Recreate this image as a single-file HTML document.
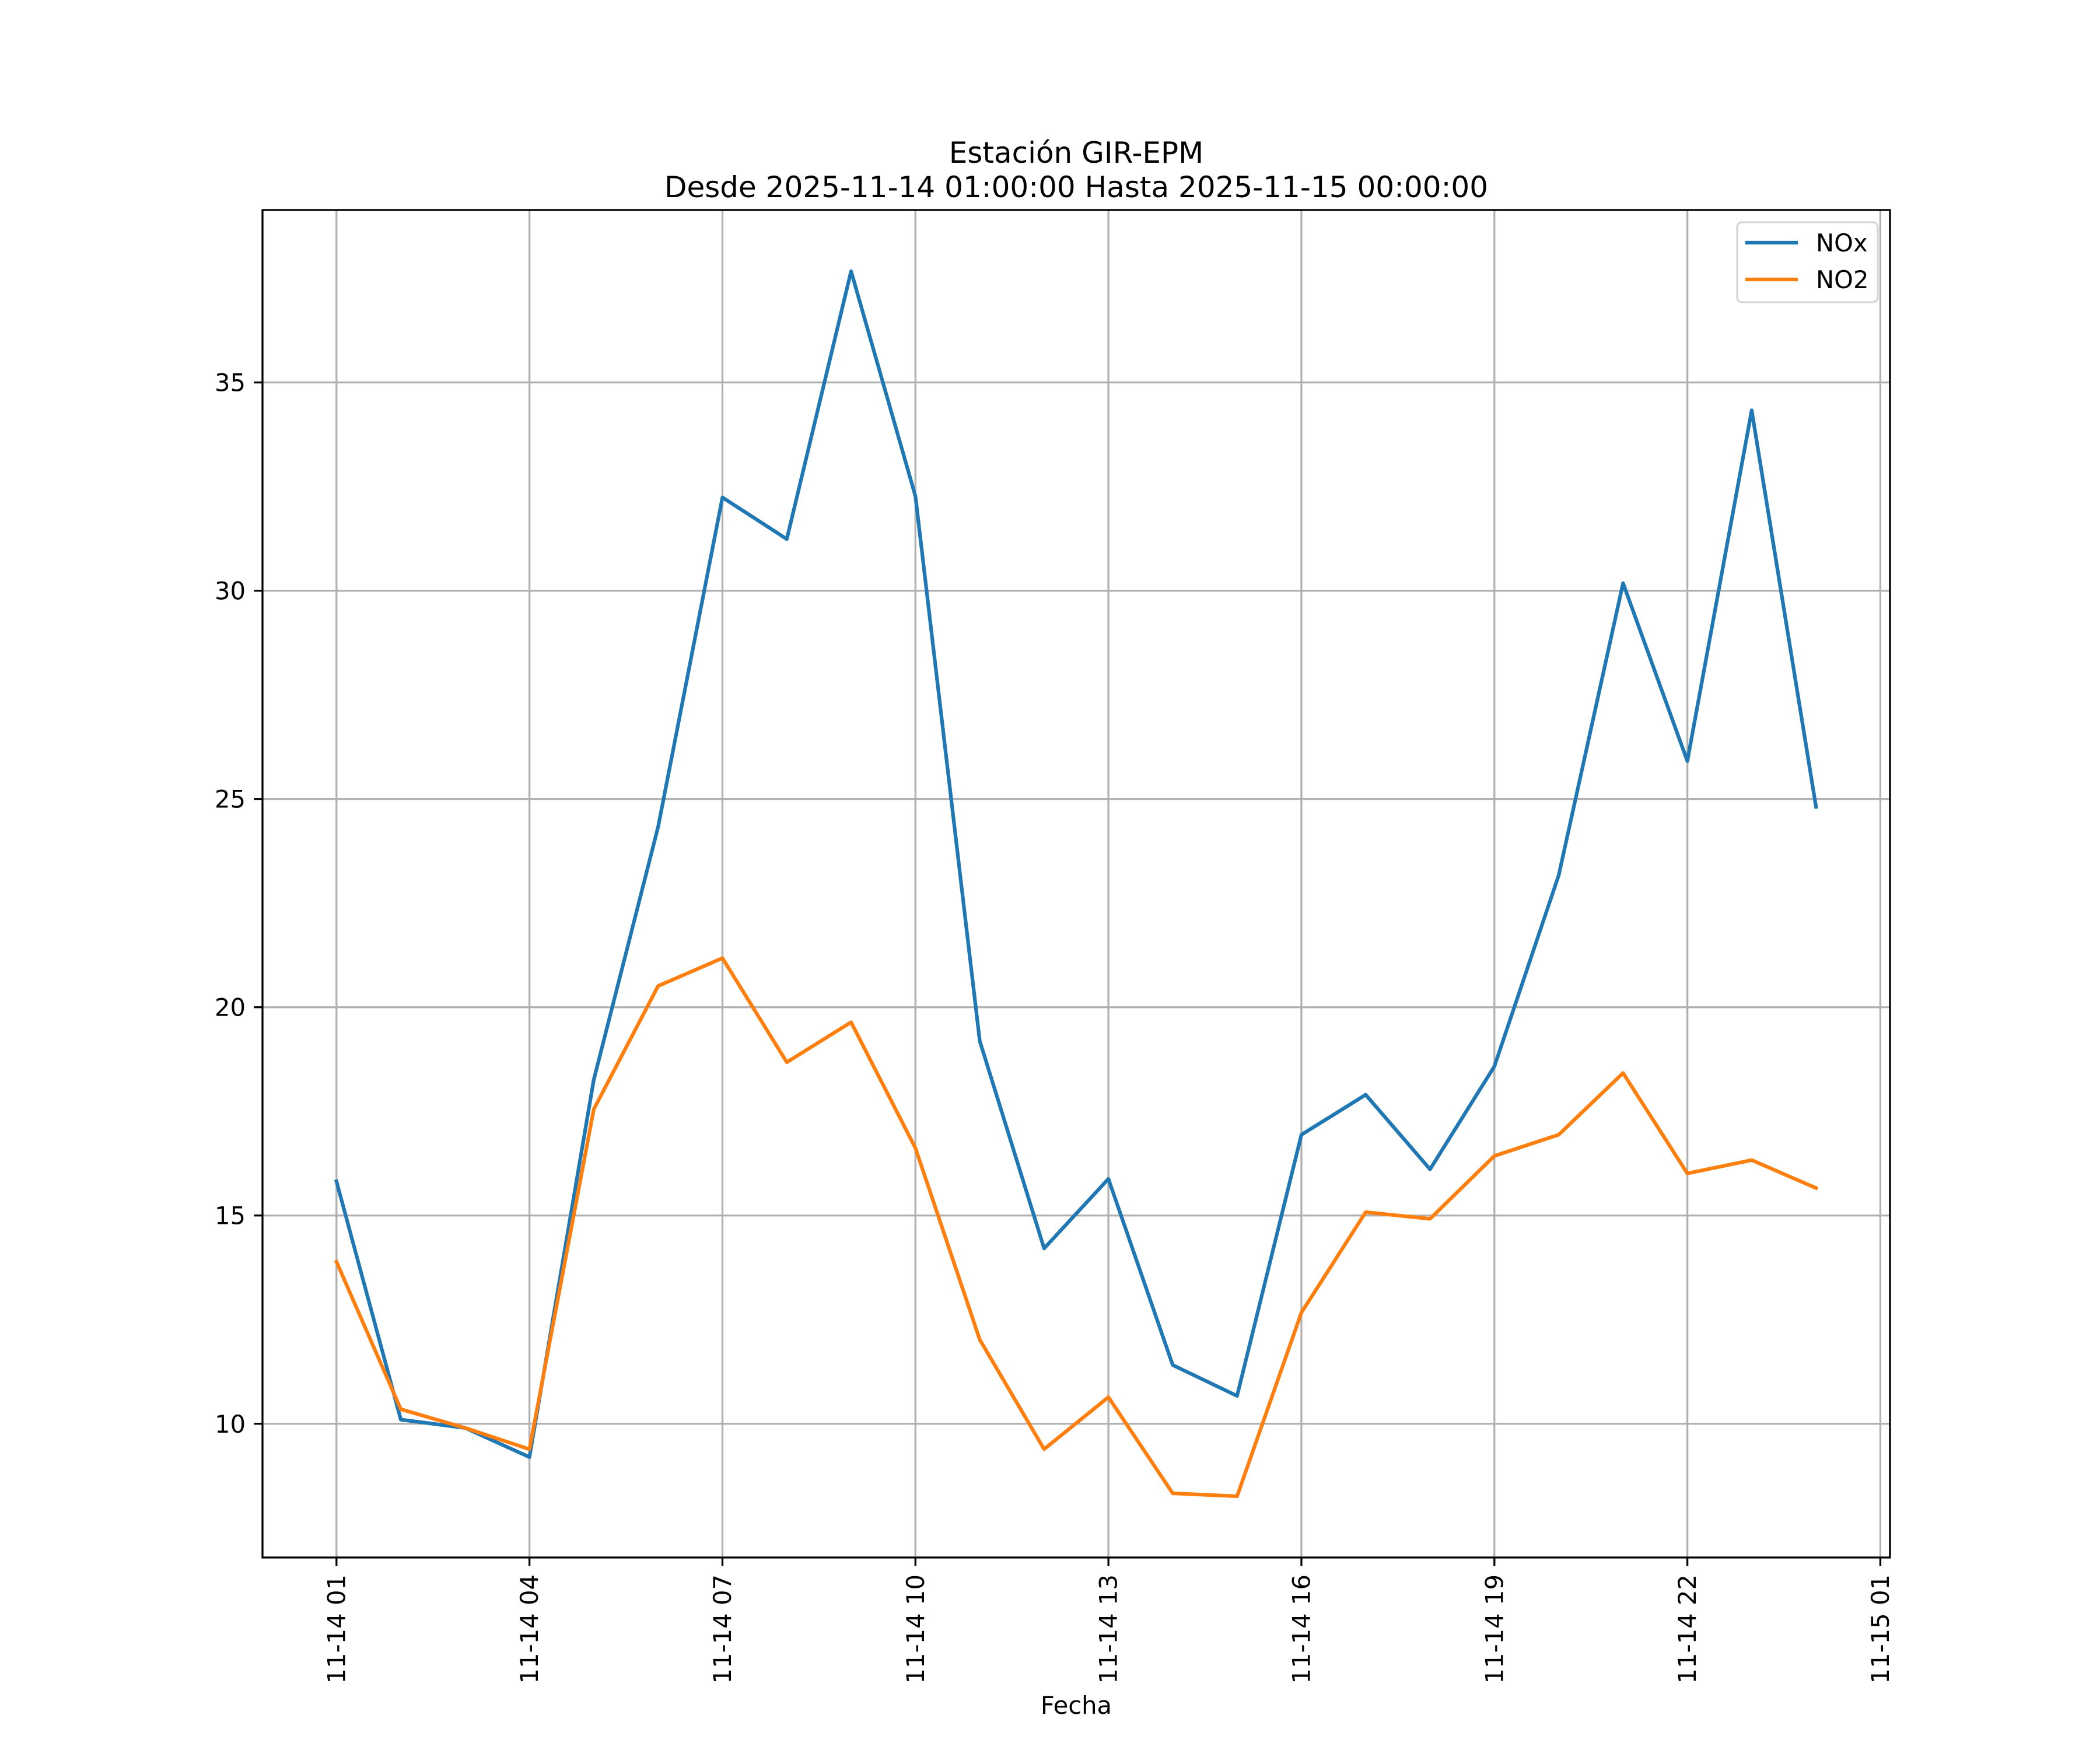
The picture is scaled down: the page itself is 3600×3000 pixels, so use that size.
<!DOCTYPE html>
<html><head><meta charset="utf-8"><style>html,body{margin:0;padding:0;background:#fff}svg{display:block}text{font-family:"DejaVu Sans","Liberation Sans",sans-serif;fill:#000}</style></head>
<body>
<svg id="chart" width="3600" height="3000" viewBox="0 0 3600 3000" xmlns="http://www.w3.org/2000/svg">
<rect width="3600" height="3000" fill="#fff"/>
<g id="grid"></g>
<g id="series"></g>
<rect x="450" y="360" width="2790" height="2310" fill="none" stroke="#000" stroke-width="3.3"/>
<g id="ticks"></g>
<text x="1845" y="279" font-size="50" text-anchor="middle">Estación GIR-EPM</text>
<text x="1845" y="338" font-size="50" text-anchor="middle">Desde 2025-11-14 01:00:00 Hasta 2025-11-15 00:00:00</text>
<text x="1845" y="2938" font-size="41.7" text-anchor="middle">Fecha</text>
<g>
<rect x="2978" y="381" width="241" height="137" rx="8" fill="#fff" fill-opacity="0.8" stroke="#d6d6d6" stroke-width="3.3"/>
<line x1="2992" y1="416" x2="3082" y2="416" stroke="#1f77b4" stroke-width="6.25"/>
<text x="3113" y="431" font-size="41.7">NOx</text>
<line x1="2992" y1="479" x2="3082" y2="479" stroke="#ff7f0e" stroke-width="6.25"/>
<text x="3113" y="494" font-size="41.7">NO2</text>
</g>
</svg>
<script>
const hours = [1,2,3,4,5,6,7,8,9,10,11,12,13,14,15,16,17,18,19,20,21,22,23,24];
const noxValues = [15.82,10.10,9.90,9.20,18.26,24.33,32.24,31.24,37.67,32.27,19.19,14.21,15.88,11.41,10.67,16.94,17.90,16.11,18.58,23.17,30.18,25.91,34.33,24.81];
const no2Values = [13.89,10.35,9.90,9.39,17.55,20.51,21.18,18.68,19.64,16.62,12.02,9.39,10.64,8.33,8.26,12.67,15.08,14.92,16.43,16.94,18.42,16.01,16.33,15.66];
const xTickHours = [1,4,7,10,13,16,19,22,25];
const xTickLabels = ["11-14 01","11-14 04","11-14 07","11-14 10","11-14 13","11-14 16","11-14 19","11-14 22","11-15 01"];
const yTicks = [10,15,20,25,30,35];

const NS = "http://www.w3.org/2000/svg";
const L = 450, R = 3240, T = 360, B = 2670;
const all = noxValues.concat(no2Values);
const dmin = Math.min(...all), dmax = Math.max(...all);
const ypad = (dmax - dmin) * 0.05;
const y0 = dmin - ypad, y1 = dmax + ypad;
const hmin = Math.min(...hours), hmax = Math.max(...hours);
const xpad = (hmax - hmin) * 0.05;
const x0 = hmin - xpad, x1 = hmax + xpad;
function xs(h){ return L + (h - x0) / (x1 - x0) * (R - L); }
function ys(v){ return B - (v - y0) / (y1 - y0) * (B - T); }
function mk(tag, attrs, parent){ const e = document.createElementNS(NS, tag); for (const k in attrs) e.setAttribute(k, attrs[k]); parent.appendChild(e); return e; }

const grid = document.getElementById('grid');
const ticks = document.getElementById('ticks');
xTickHours.forEach((h, i) => {
  const x = xs(h);
  const g = mk('line', {x1:x, y1:T, x2:x, y2:B, stroke:'#b0b0b0', 'stroke-width':3.3}, grid);
  
  
  const t = mk('line', {x1:x, y1:B, x2:x, y2:B+14.6, stroke:'#000', 'stroke-width':3.3}, ticks);
  
  
  const lb = mk('text', {x:0, y:0, 'font-size':41.7, 'text-anchor':'end', 'dominant-baseline':'central', transform:`translate(${x},${B+29}) rotate(-90)`}, ticks);
  lb.textContent = xTickLabels[i];
  
  
});
yTicks.forEach(v => {
  const y = ys(v);
  const g = mk('line', {x1:L, y1:y, x2:R, y2:y, stroke:'#b0b0b0', 'stroke-width':3.3}, grid);
  
  
  const t = mk('line', {x1:L-14.6, y1:y, x2:L, y2:y, stroke:'#000', 'stroke-width':3.3}, ticks);
  
  
  const lb = mk('text', {x:L-29, y:y+15, 'font-size':41.7, 'text-anchor':'end'}, ticks);
  lb.textContent = String(v);
  
  
});
const series = document.getElementById('series');
function line(vals, color, name){
  const pts = vals.map((v, i) => xs(hours[i]).toFixed(1) + ',' + ys(v).toFixed(1)).join(' ');
  const p = mk('polyline', {points:pts, fill:'none', stroke:color, 'stroke-width':6.25, 'stroke-linejoin':'round', 'stroke-linecap':'square'}, series);
  
  
}
line(noxValues, '#1f77b4', 'nox-line');
line(no2Values, '#ff7f0e', 'no2-line');
</script>
</body></html>
